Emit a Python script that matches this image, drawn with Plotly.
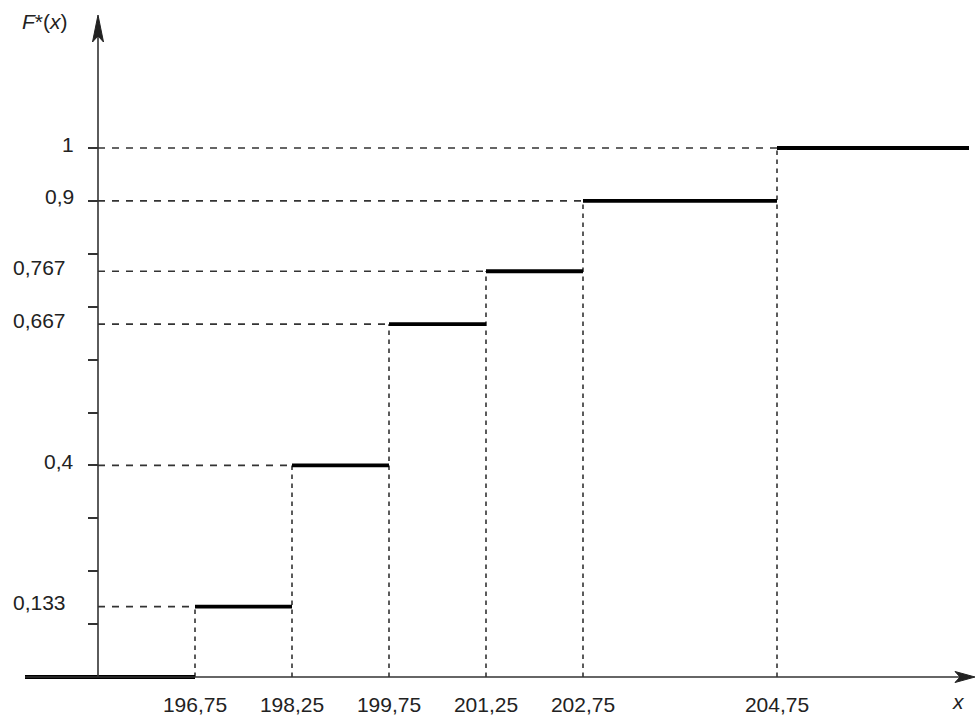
import plotly.graph_objects as go

# ---- data ----
x_values = [196.75, 198.25, 199.75, 201.25, 202.75, 204.75]
x_labels = ["196,75", "198,25", "199,75", "201,25", "202,75", "204,75"]
f_values = [0.133, 0.4, 0.667, 0.767, 0.9, 1.0]      # F*(x) just after each x value
f_labels = ["0,133", "0,4", "0,667", "0,767", "0,9", "1"]
y_ticks = [0.1, 0.2, 0.3, 0.4, 0.5, 0.6, 0.7, 0.8, 0.9, 1.0]

# schematic (not-to-scale) slot of each x value on the drawn axis
x_slots = [1, 2, 3, 4, 5, 7]
slot_of = dict(zip(x_values, x_slots))

# ---- layout geometry (pixels) ----
W, H = 976, 720
L, R, T, B = 25, 0, 15, 30
X0PX, SLOTPX = 98, 97          # pixel of slot 0 (y axis) and pixels per slot
Y0PX, UNITPX = 677, 529        # pixel of F=0 and pixels per unit of F
xrange_ = [(L - X0PX) / SLOTPX, (W - R - X0PX) / SLOTPX]
yrange_ = [(Y0PX - (H - B)) / UNITPX, (Y0PX - T) / UNITPX]
x_right_end = (969 - X0PX) / SLOTPX


def paper_x(px):
    return (px - L) / (W - L - R)


def paper_y(py):
    return (H - B - py) / (H - T - B)


FONT = "Liberation Sans, Arial, sans-serif"
TXT = "#222222"

fig = go.Figure()

slots = [slot_of[v] for v in x_values]

# horizontal dashed guides from the y axis to each jump
hx, hy = [], []
for s, f in zip(slots, f_values):
    hx += [0, s, None]
    hy += [f, f, None]
fig.add_trace(go.Scatter(x=hx, y=hy, mode="lines",
                         line=dict(color="#333333", width=1.6, dash="7px,7px"),
                         hoverinfo="skip", showlegend=False))

# vertical dashed guides from the x axis up to each new level
vx, vy = [], []
for s, f in zip(slots, f_values):
    vx += [s, s, None]
    vy += [0, f, None]
fig.add_trace(go.Scatter(x=vx, y=vy, mode="lines",
                         line=dict(color="#333333", width=1.6, dash="4.5px,4.5px"),
                         hoverinfo="skip", showlegend=False))

# step segments of F*(x)
starts = [xrange_[0]] + slots
ends = slots + [x_right_end]
levels = [0.0] + f_values
sx, sy = [], []
for a, b, f in zip(starts, ends, levels):
    sx += [a, b, None]
    sy += [f, f, None]
fig.add_trace(go.Scatter(x=sx, y=sy, mode="lines",
                         line=dict(color="#000000", width=3.8),
                         hoverinfo="skip", showlegend=False))

# axis lines with arrowheads
shapes = [
    dict(type="line", xref="x", yref="y", x0=0, x1=0, y0=0, y1=yrange_[1] - 0.02,
         line=dict(color="#333333", width=1.6)),
    dict(type="line", xref="x", yref="y", x0=xrange_[0], x1=xrange_[1] - 0.05, y0=0, y1=0,
         line=dict(color="#333333", width=1.6)),
    dict(type="path", xref="x", yref="y", xsizemode="pixel", ysizemode="pixel",
         xanchor=0, yanchor=yrange_[1],
         path="M0,0 L5.5,-27 L0,-21 L-5.5,-27 Z",
         fillcolor="#222222", line=dict(color="#222222", width=1)),
    dict(type="path", xref="x", yref="y", xsizemode="pixel", ysizemode="pixel",
         xanchor=xrange_[1], yanchor=0,
         path="M-1,0 L-21,5.5 L-16,0 L-21,-5.5 Z",
         fillcolor="#222222", line=dict(color="#222222", width=1)),
]

annotations = []
for lbl, f in zip(f_labels, f_values):
    right_px = 76 if len(lbl) <= 3 else 68
    annotations.append(dict(xref="paper", yref="y", x=paper_x(right_px), y=f,
                            text=lbl, showarrow=False, xanchor="right", yanchor="middle",
                            yshift=4, font=dict(family=FONT, size=21, color=TXT)))
annotations.append(dict(xref="paper", yref="paper", x=paper_x(45), y=paper_y(22),
                        text="<i>F</i>*(<i>x</i>)", showarrow=False,
                        xanchor="center", yanchor="middle",
                        font=dict(family=FONT, size=21, color=TXT)))
annotations.append(dict(xref="paper", yref="paper", x=paper_x(958), y=paper_y(701),
                        text="<i>x</i>", showarrow=False,
                        xanchor="center", yanchor="middle",
                        font=dict(family=FONT, size=21, color=TXT)))

fig.update_layout(
    width=W, height=H,
    margin=dict(l=L, r=R, t=T, b=B),
    paper_bgcolor="white", plot_bgcolor="white",
    showlegend=False,
    shapes=shapes,
    annotations=annotations,
    xaxis=dict(range=xrange_, tickmode="array", tickvals=slots, ticktext=x_labels,
               ticks="", showgrid=False, zeroline=False, showline=False,
               tickfont=dict(family=FONT, size=21, color=TXT), fixedrange=True),
    yaxis=dict(range=yrange_, anchor="free", position=paper_x(X0PX), side="left",
               tickmode="array", tickvals=y_ticks, showticklabels=False,
               ticks="outside", ticklen=10, tickwidth=1.6, tickcolor="#333333",
               showgrid=False, zeroline=False, showline=False, fixedrange=True),
)

fig.write_html("out.html", config=dict(displayModeBar=False),
               post_script="document.body.style.margin='0';"
                           "document.body.style.overflow='hidden';")
